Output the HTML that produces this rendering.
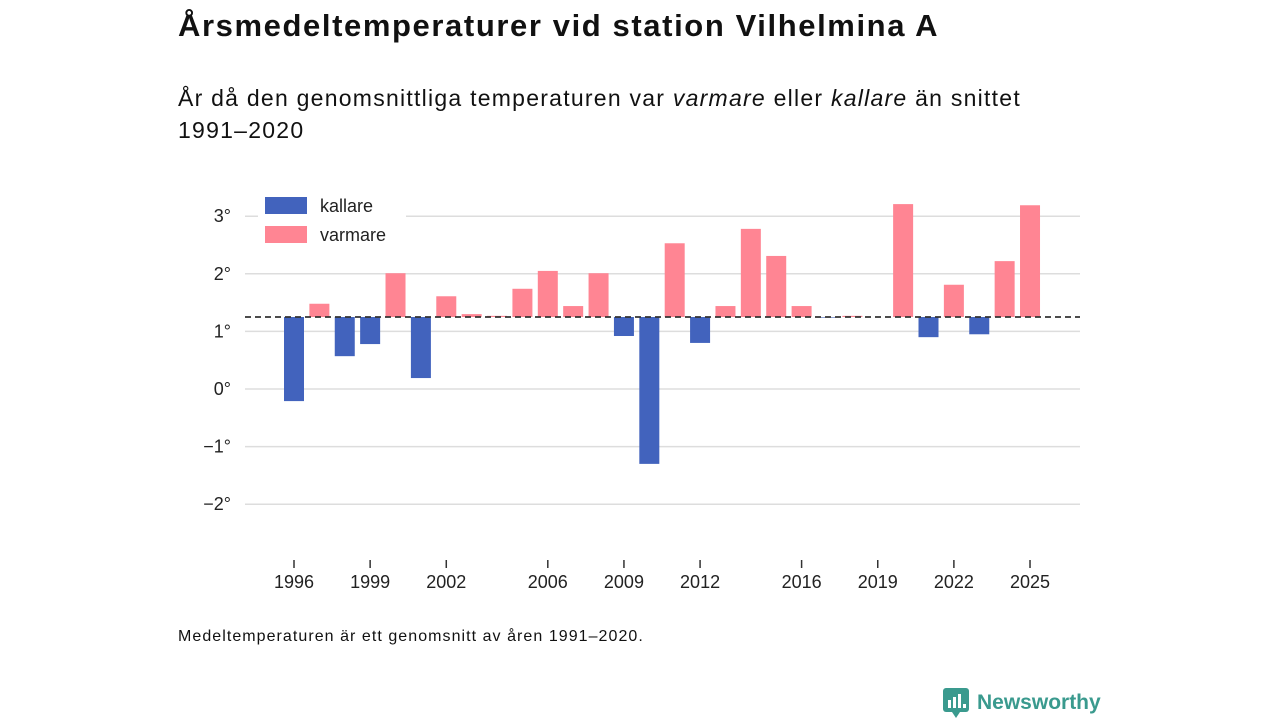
<!DOCTYPE html>
<html><head><meta charset="utf-8"><style>
body{margin:0;width:1280px;height:720px;background:#fff;font-family:"Liberation Sans","DejaVu Sans",sans-serif;color:#111;overflow:hidden;position:relative}
.t{position:absolute;left:178px;top:8px;font-size:31px;font-weight:bold;letter-spacing:1.6px;white-space:nowrap}
.s{position:absolute;left:178px;top:82px;font-size:23px;line-height:32px;width:960px;letter-spacing:1.25px}
.f{position:absolute;left:178px;top:628px;font-size:16px;letter-spacing:1.05px;white-space:nowrap}
.logo{position:absolute;left:943px;top:688px;font-size:21px;color:#3a9a8e;font-weight:bold;display:flex;align-items:center;gap:8px}
</style></head><body>
<div class="t">Årsmedeltemperaturer vid station Vilhelmina A</div>
<div class="s">År då den genomsnittliga temperaturen var <i>varmare</i> eller <i>kallare</i> än snittet<br>1991–2020</div>
<svg id="c" width="1280" height="720" style="position:absolute;left:0;top:0"></svg>
<div class="f">Medeltemperaturen är ett genomsnitt av åren 1991–2020.</div>
<div class="logo"><svg width="26" height="30" viewBox="0 0 26 30"><rect x="0" y="0" width="26" height="24" rx="3" fill="#3a9a8e"/><polygon points="9,24 13,30 17,24" fill="#3a9a8e"/><rect x="5" y="12" width="3" height="8" fill="#fff"/><rect x="10" y="9" width="3" height="11" fill="#fff"/><rect x="15" y="6" width="3" height="14" fill="#fff"/><rect x="20" y="16" width="3" height="4" fill="#fff"/></svg><span>Newsworthy</span></div>
<script>
const years=[1996,1997,1998,1999,2000,2001,2002,2003,2004,2005,2006,2007,2008,2009,2010,2011,2012,2013,2014,2015,2016,2017,2018,2019,2020,2021,2022,2023,2024,2025];
const temps=[-0.21,1.48,0.57,0.78,2.01,0.19,1.61,1.30,1.27,1.74,2.05,1.44,2.01,0.92,-1.30,2.53,0.80,1.44,2.78,2.31,1.44,1.24,1.27,1.25,3.21,0.90,1.81,0.95,2.22,3.19];
const mean=1.25;
const yTicks=[3,2,1,0,-1,-2];
const xTicks=[1996,1999,2002,2006,2009,2012,2016,2019,2022,2025];
const NS="http://www.w3.org/2000/svg",svg=document.getElementById('c');
const y=v=>389-v*57.6, x=yr=>294+(yr-1996)*25.38;
function el(t,a){const e=document.createElementNS(NS,t);for(const k in a)e.setAttribute(k,a[k]);svg.appendChild(e);return e;}
yTicks.forEach(v=>{
 const g=el('line',{x1:245,x2:1080,y1:y(v),y2:y(v),stroke:'#ddd','stroke-width':1.5});
 
 
 const t=el('text',{x:231,y:y(v)+6,'text-anchor':'end','font-size':18,fill:'#222'});
 t.textContent=(v<0?'−'+(-v):v)+'°';
 
 
});
years.forEach((yr,i)=>{
 const v=temps[i],a=y(Math.max(v,mean)),b=y(Math.min(v,mean));
 const r=el('rect',{x:x(yr)-10,y:a,width:20,height:Math.max(b-a,0),fill:v<mean?'#4263bd':'#ff8593'});
 
 
});
const m=el('line',{x1:245,x2:1080,y1:y(mean),y2:y(mean),stroke:'#333','stroke-width':1.8,'stroke-dasharray':'6,4'});


xTicks.forEach(yr=>{
 const l=el('line',{x1:x(yr),x2:x(yr),y1:560,y2:568,stroke:'#333','stroke-width':1.5});
 
 
 const t=el('text',{x:x(yr),y:588,'text-anchor':'middle','font-size':18,fill:'#222'});
 t.textContent=yr;
 
 
});
const bg=el('rect',{x:258,y:192,width:148,height:56,fill:'#fff'});


[['kallare','#4263bd',197],['varmare','#ff8593',226]].forEach(([n,c,yy])=>{
 const r=el('rect',{x:265,y:yy,width:42,height:17,fill:c});
 
 
 const t=el('text',{x:320,y:yy+15,'font-size':18,fill:'#222'});
 t.textContent=n;
 
 
});
</script>
</body></html>
